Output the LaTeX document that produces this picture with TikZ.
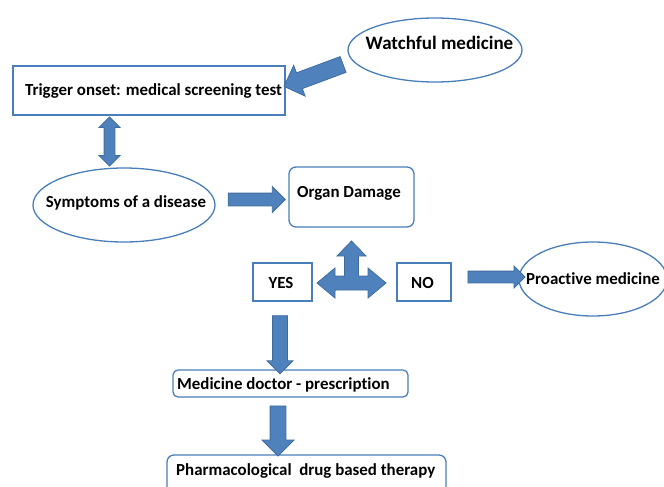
\documentclass[tikz,border=0pt]{standalone}
\usepackage{fontspec}
\setmainfont[Ligatures={NoCommon,NoContextual}]{Carlito}
\usetikzlibrary{shapes.geometric,shapes.arrows,calc}
\definecolor{ablue}{HTML}{4F81BD}
\definecolor{adark}{HTML}{3F6E9E}
\definecolor{bline}{HTML}{4A7EBB}
\tikzset{
  txt/.style={font=\bfseries\fontsize{16.9}{18}\selectfont, inner sep=0pt},
  ellbox/.style={ellipse, draw=bline, line width=1.3pt, inner sep=0pt},
  sqbox/.style={rectangle, draw=bline, line width=1.3pt, inner sep=0pt},
  rndbox/.style={rectangle, rounded corners=7pt, draw=bline, line width=1.3pt, inner sep=0pt},
  barrow/.style={single arrow, fill=ablue, draw=adark, line width=0.8pt, inner xsep=0pt, minimum width=0pt},
  dbarrow/.style={double arrow, fill=ablue, draw=adark, line width=0.8pt, inner xsep=0pt, minimum width=0pt}
}
\begin{document}
\begin{tikzpicture}[x=1pt,y=-1pt]
\useasboundingbox (0,0) rectangle (664,487);
\clip (0,0) rectangle (664,487);
\fill[white] (0,0) rectangle (664,487);
% shapes
\node[ellbox, minimum width=174pt, minimum height=64pt] (watch) at (435,50) {};
\node[sqbox, minimum width=272pt, minimum height=49pt] (trig) at (149,90.5) {};
\node[ellbox, minimum width=182pt, minimum height=74pt] (symp) at (124,205) {};
\node[rndbox, minimum width=125pt, minimum height=60pt] (organ) at (351.5,197) {};
\node[sqbox, minimum width=59pt, minimum height=38pt] (yes) at (282.5,282) {};
\node[sqbox, minimum width=54pt, minimum height=38pt] (no) at (424,282) {};
\node[ellbox, minimum width=148pt, minimum height=74pt] (pro) at (593,279) {};
\node[rndbox, rounded corners=5pt, minimum width=235pt, minimum height=27pt] (med) at (290.5,383.5) {};
\node[rndbox, minimum width=279pt, minimum height=45pt] (pharm) at (306.5,477.5) {};
% texts
\node[txt, font=\bfseries\fontsize{19}{21}\selectfont] (twatch) at (439.5,43) {Watchful medicine};
\node[txt] (ttrig) at (153.5,91) {Trigger onset: medical screening test};
\node[txt] (tsymp) at (126,203) {Symptoms of a disease};
\node[txt] (torgan) at (349,193) {Organ Damage};
\node[txt] (tyes) at (281,283) {YES};
\node[txt] (tno) at (422.5,283) {NO};
\node[txt] (tpro) at (593,279) {Proactive medicine};
\node[txt, anchor=west] (tmed) at (177,385) {Medicine doctor - prescription};
\node[txt, anchor=west] (tpharm) at (176,471) {Pharmacological\ \ drug based therapy};
% block arrows
\node[barrow, inner ysep=8pt, single arrow head extend=8pt, minimum height=63pt, rotate=200.4] (a1) at (317.5,74) {};
\node[dbarrow, inner ysep=5pt, double arrow head extend=5pt, minimum height=49pt, rotate=90] (a2) at ($(trig.south)!0.5!(symp.north)+(-27,0)$) {};
\node[barrow, inner ysep=6pt, single arrow head extend=6.5pt, minimum height=57pt] (a3) at (253.5,199.5) {};
\node[barrow, inner ysep=5.5pt, single arrow head extend=5pt, minimum height=57pt] (a4) at (493.5,277) {};
\node[barrow, inner ysep=7pt, single arrow head extend=5.5pt, minimum height=58pt, rotate=-90] (a5) at (280,341) {};
\node[barrow, inner ysep=7.5pt, single arrow head extend=8pt, minimum height=50pt, rotate=-90] (a6) at (278,427) {};
% three-way arrow
\filldraw[fill=ablue, draw=adark, line width=0.8pt]
  (317,283) -- (335,268) -- (335,276) -- (344.5,276) -- (344.5,256) -- (337,256) -- (351.5,241)
  -- (366,256) -- (358.5,256) -- (358.5,276) -- (368,276) -- (368,268) -- (386,283)
  -- (368,298) -- (368,290) -- (335,290) -- (335,298) -- cycle;
\end{tikzpicture}
\end{document}
